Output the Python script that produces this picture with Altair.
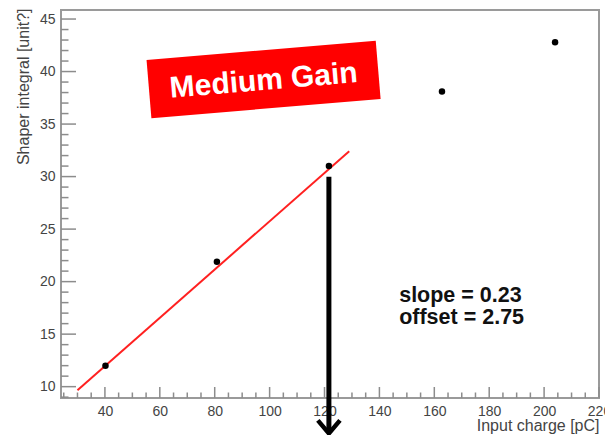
import altair as alt
import pandas as pd

# Measured shaper response vs. injected charge (medium gain range)
charge_pc = [40.2, 80.8, 121.6, 162.8, 204.0]
shaper_integral = [12.0, 21.9, 31.0, 38.1, 42.8]

# Linear fit over the low-charge points
fit_slope = 0.23
fit_offset = 2.75
fit_range = [30.0, 129.0]

# Axis ticks (ROOT-style: inward major + minor ticks)
x_major = [40, 60, 80, 100, 120, 140, 160, 180, 200, 220]
x_minor = [25, 30, 35, 45, 50, 55, 65, 70, 75, 85, 90, 95, 105, 110, 115,
           125, 130, 135, 145, 150, 155, 165, 170, 175, 185, 190, 195,
           205, 210, 215]
y_major = [10, 15, 20, 25, 30, 35, 40, 45]
y_minor = [9, 11, 12, 13, 14, 16, 17, 18, 19, 21, 22, 23, 24, 26, 27, 28, 29,
           31, 32, 33, 34, 36, 37, 38, 39, 41, 42, 43, 44]

X_DOMAIN = [24, 220]
Y_DOMAIN = [8.92, 45.86]
W, H = 538, 388

FONT = "Liberation Sans"
AXIS_GRAY = "#8c8c8c"
TEXT_GRAY = "#444444"

x_axis = alt.Axis(
    values=x_major, format="d", tickSize=0, domain=False, grid=False,
    labelPadding=6, labelFontSize=14, labelFont=FONT, labelColor=TEXT_GRAY,
    labelFlush=False, labelOverlap=False,
    title="Input charge [pC]", titleFont=FONT, titleFontSize=16,
    titleFontWeight="normal", titleColor=TEXT_GRAY,
    titleX=W, titleY=32, titleAlign="right", titleBaseline="alphabetic",
)
y_axis = alt.Axis(
    values=y_major, format="d", tickSize=0, domain=False, grid=False,
    labelPadding=6, labelFontSize=14, labelFont=FONT, labelColor=TEXT_GRAY,
    labelOverlap=False,
    title="Shaper integral [unit?]", titleFont=FONT, titleFontSize=16,
    titleFontWeight="normal", titleColor=TEXT_GRAY, titleAngle=270,
    titleX=-38, titleY=-2, titleAlign="right", titleBaseline="middle",
)


def X(field):
    return alt.X(field, scale=alt.Scale(domain=X_DOMAIN, nice=False, zero=False), axis=x_axis)


def Y(field):
    return alt.Y(field, scale=alt.Scale(domain=Y_DOMAIN, nice=False, zero=False), axis=y_axis)


points_df = pd.DataFrame({"charge": charge_pc, "integral": shaper_integral})
fit_df = pd.DataFrame({
    "charge": fit_range,
    "integral": [fit_slope * v + fit_offset for v in fit_range],
})

points = alt.Chart(points_df).mark_circle(size=42, color="black", opacity=1).encode(
    x=X("charge:Q"), y=Y("integral:Q"),
)

fit_line = alt.Chart(fit_df).mark_line(color="#ff2020", strokeWidth=2).encode(
    x=X("charge:Q"), y=Y("integral:Q"),
)

# Inward tick marks
ytick_major = alt.Chart(pd.DataFrame({"v": y_major})).mark_rule(
    color=AXIS_GRAY, strokeWidth=1.5
).encode(y=Y("v:Q"), x=alt.value(0), x2=alt.value(15))
ytick_minor = alt.Chart(pd.DataFrame({"v": y_minor})).mark_rule(
    color=AXIS_GRAY, strokeWidth=1.5
).encode(y=Y("v:Q"), x=alt.value(0), x2=alt.value(7.5))
xtick_major = alt.Chart(pd.DataFrame({"v": x_major})).mark_rule(
    color=AXIS_GRAY, strokeWidth=1.5
).encode(x=X("v:Q"), y=alt.value(H), y2=alt.value(H - 11))
xtick_minor = alt.Chart(pd.DataFrame({"v": x_minor})).mark_rule(
    color=AXIS_GRAY, strokeWidth=1.5
).encode(x=X("v:Q"), y=alt.value(H), y2=alt.value(H - 5.5))

# "Medium Gain" label on a tilted red banner
banner_df = pd.DataFrame({"x": [97.8], "y": [39.25]})
TILT = 355.2
banner = alt.Chart(banner_df).mark_point(
    shape="M-1,-0.254L1,-0.254L1,0.254L-1,0.254Z",
    size=52900, filled=True, fill="#ff0000", strokeWidth=0, opacity=1, angle=TILT,
).encode(x=X("x:Q"), y=Y("y:Q"))
banner_text = alt.Chart(banner_df).mark_text(
    text="Medium Gain", font=FONT, fontWeight="bold", fontSize=30, color="white",
    angle=TILT, align="center", baseline="middle", dy=1.5,
).encode(x=X("x:Q"), y=Y("y:Q"))

# Fit parameters
stats_df = pd.DataFrame({
    "x": [147.2, 147.2],
    "y": [18.05, 16.0],
    "label": [f"slope = {fit_slope:.2f}", f"offset = {fit_offset:.2f}"],
})
stats = alt.Chart(stats_df).mark_text(
    font=FONT, fontWeight="bold", fontSize=21.5, color="#111111",
    align="left", baseline="alphabetic",
).encode(x=X("x:Q"), y=Y("y:Q"), text="label:N")

# Arrow dropping from the 120 pC point past the axis
arrow_df = pd.DataFrame({"x": [121.6], "y": [29.98], "y2": [5.6]})
arrow_shaft = alt.Chart(arrow_df).mark_rule(color="black", strokeWidth=5).encode(
    x=X("x:Q"), y=Y("y:Q"), y2="y2:Q",
)
head_df = pd.DataFrame({"x": [121.6], "y": [5.55]})
arrow_head = alt.Chart(head_df).mark_point(
    shape="M-0.85,-1L0,0L0.85,-1", size=676, filled=False, color="black",
    strokeWidth=4.5, opacity=1,
).encode(x=X("x:Q"), y=Y("y:Q"))

chart = alt.layer(
    ytick_minor, ytick_major, xtick_minor, xtick_major,
    fit_line, points, banner, banner_text, stats, arrow_shaft, arrow_head,
).properties(
    width=W, height=H,
    autosize=alt.AutoSizeParams(type="none"),
    padding={"left": 61, "top": 10, "right": 6, "bottom": 37},
    background="white",
).configure_view(
    stroke="#9a9a9a", strokeWidth=2,
)

chart.save("out.html", embed_options={"renderer": "svg", "actions": False})
